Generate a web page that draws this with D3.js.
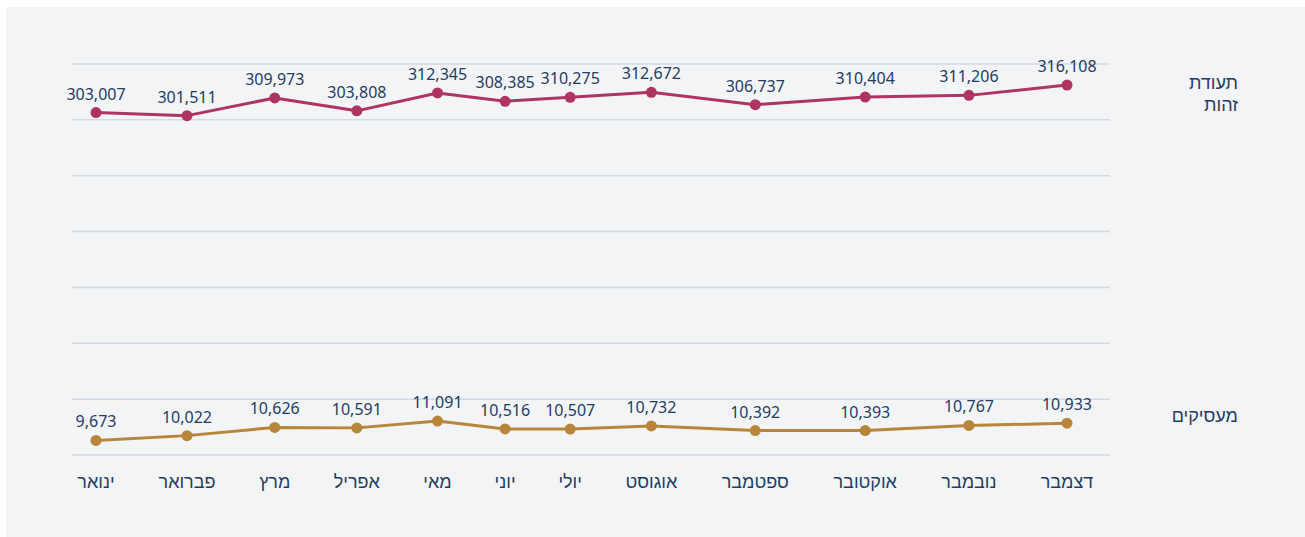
<!DOCTYPE html>
<html>
<head>
<meta charset="utf-8">
<script src="https://cdn.jsdelivr.net/npm/d3@7"></script>
<style>
  body { margin: 0; background: #fff; }
  svg { display: block; }
</style>
</head>
<body>
<div id="chart"></div>
<script>
// data
var months = ["ינואר", "פברואר", "מרץ", "אפריל", "מאי", "יוני", "יולי", "אוגוסט", "ספטמבר", "אוקטובר", "נובמבר", "דצמבר"];
var idCards = [303007, 301511, 309973, 303808, 312345, 308385, 310275, 312672, 306737, 310404, 311206, 316108];
var employers = [9673, 10022, 10626, 10591, 11091, 10516, 10507, 10732, 10392, 10393, 10767, 10933];
var rowLabels = [["תעודת", "זהות"], ["מעסיקים"]];

var width = 1305, height = 537;
var textColor = "#1f3d63", gridColor = "#d3dae3";
var colors = ["#b03462", "#b8863a"];
var fmt = d3.format(",");

var svg = d3.select("#chart").append("svg").attr("width", width).attr("height", height);

svg.append("rect").attr("x", 6).attr("y", 7).attr("width", width - 6).attr("height", height - 7)
   .attr("fill", "#f3f4f6");

var gridLeft = 72, gridRight = 1110;
// 8 gridlines => 7 bands, series live in first and last band
var gy = d3.scaleLinear().domain([0, 7]).range([64, 455]);
svg.append("g").selectAll("line").data(d3.range(8)).enter().append("line")
   .attr("x1", gridLeft).attr("x2", gridRight)
   .attr("y1", function(d) { return gy(d); }).attr("y2", function(d) { return gy(d); })
   .attr("stroke", gridColor).attr("stroke-width", 1.5);

// month labels, laid out with equal gaps like a flex row
var monthG = svg.append("g");
var mt = monthG.selectAll("text").data(months).enter().append("text")
   .text(function(d) { return d; })
   .attr("text-anchor", "middle")
   .attr("y", 488)
   .attr("fill", textColor)
   .style("font-family", "'Noto Sans', 'Liberation Sans', sans-serif")
   .style("font-size", "18px");

var widths = [];
mt.each(function() { widths.push(this.getComputedTextLength()); });
var gap = 40;
var raw = [], pos = 0;
widths.forEach(function(w) { raw.push(pos + w / 2); pos += w + gap; });
// stretch so first / last points sit where the reference has them
var fit = d3.scaleLinear().domain([raw[0], raw[raw.length - 1]]).range([96, 1067]);
var x = d3.scaleOrdinal().domain(months).range(raw.map(fit));
mt.attr("x", function(d) { return x(d); });

var yTop = d3.scaleLinear().domain([299500, 326200]).range([gy(1), gy(0)]);
var yBot = d3.scaleLinear().domain([8600, 12700]).range([gy(7), gy(6)]);

var series = [
  { values: idCards, y: yTop, color: colors[0] },
  { values: employers, y: yBot, color: colors[1] }
];

series.forEach(function(s) {
  var pts = months.map(function(m, i) { return { m: m, v: s.values[i] }; });
  var line = d3.line().x(function(d) { return x(d.m); }).y(function(d) { return s.y(d.v); });
  var g = svg.append("g");
  g.append("path").datum(pts).attr("d", line)
   .attr("fill", "none").attr("stroke", s.color).attr("stroke-width", 3)
   .attr("stroke-linejoin", "round");
  g.selectAll("circle").data(pts).enter().append("circle")
   .attr("cx", function(d) { return x(d.m); })
   .attr("cy", function(d) { return s.y(d.v); })
   .attr("r", 5.5).attr("fill", s.color);
  g.selectAll("text").data(pts).enter().append("text")
   .attr("x", function(d) { return x(d.m); })
   .attr("y", function(d) { return s.y(d.v) - 13; })
   .attr("text-anchor", "middle")
   .attr("fill", textColor)
   .style("font-family", "'Noto Sans', sans-serif")
   .style("font-size", "16px")
   .text(function(d) { return fmt(d.v); });
});

// row labels on the right
var rl = svg.append("g").style("font-family", "'Noto Sans', 'Liberation Sans', sans-serif")
   .style("font-size", "18px").attr("fill", textColor);
rowLabels[0].forEach(function(t, i) {
  rl.append("text").attr("x", 1238).attr("y", 89 + i * 22).attr("text-anchor", "end").text(t);
});
rl.append("text").attr("x", 1238).attr("y", 422).attr("text-anchor", "end").text(rowLabels[1][0]);
</script>
</body>
</html>
